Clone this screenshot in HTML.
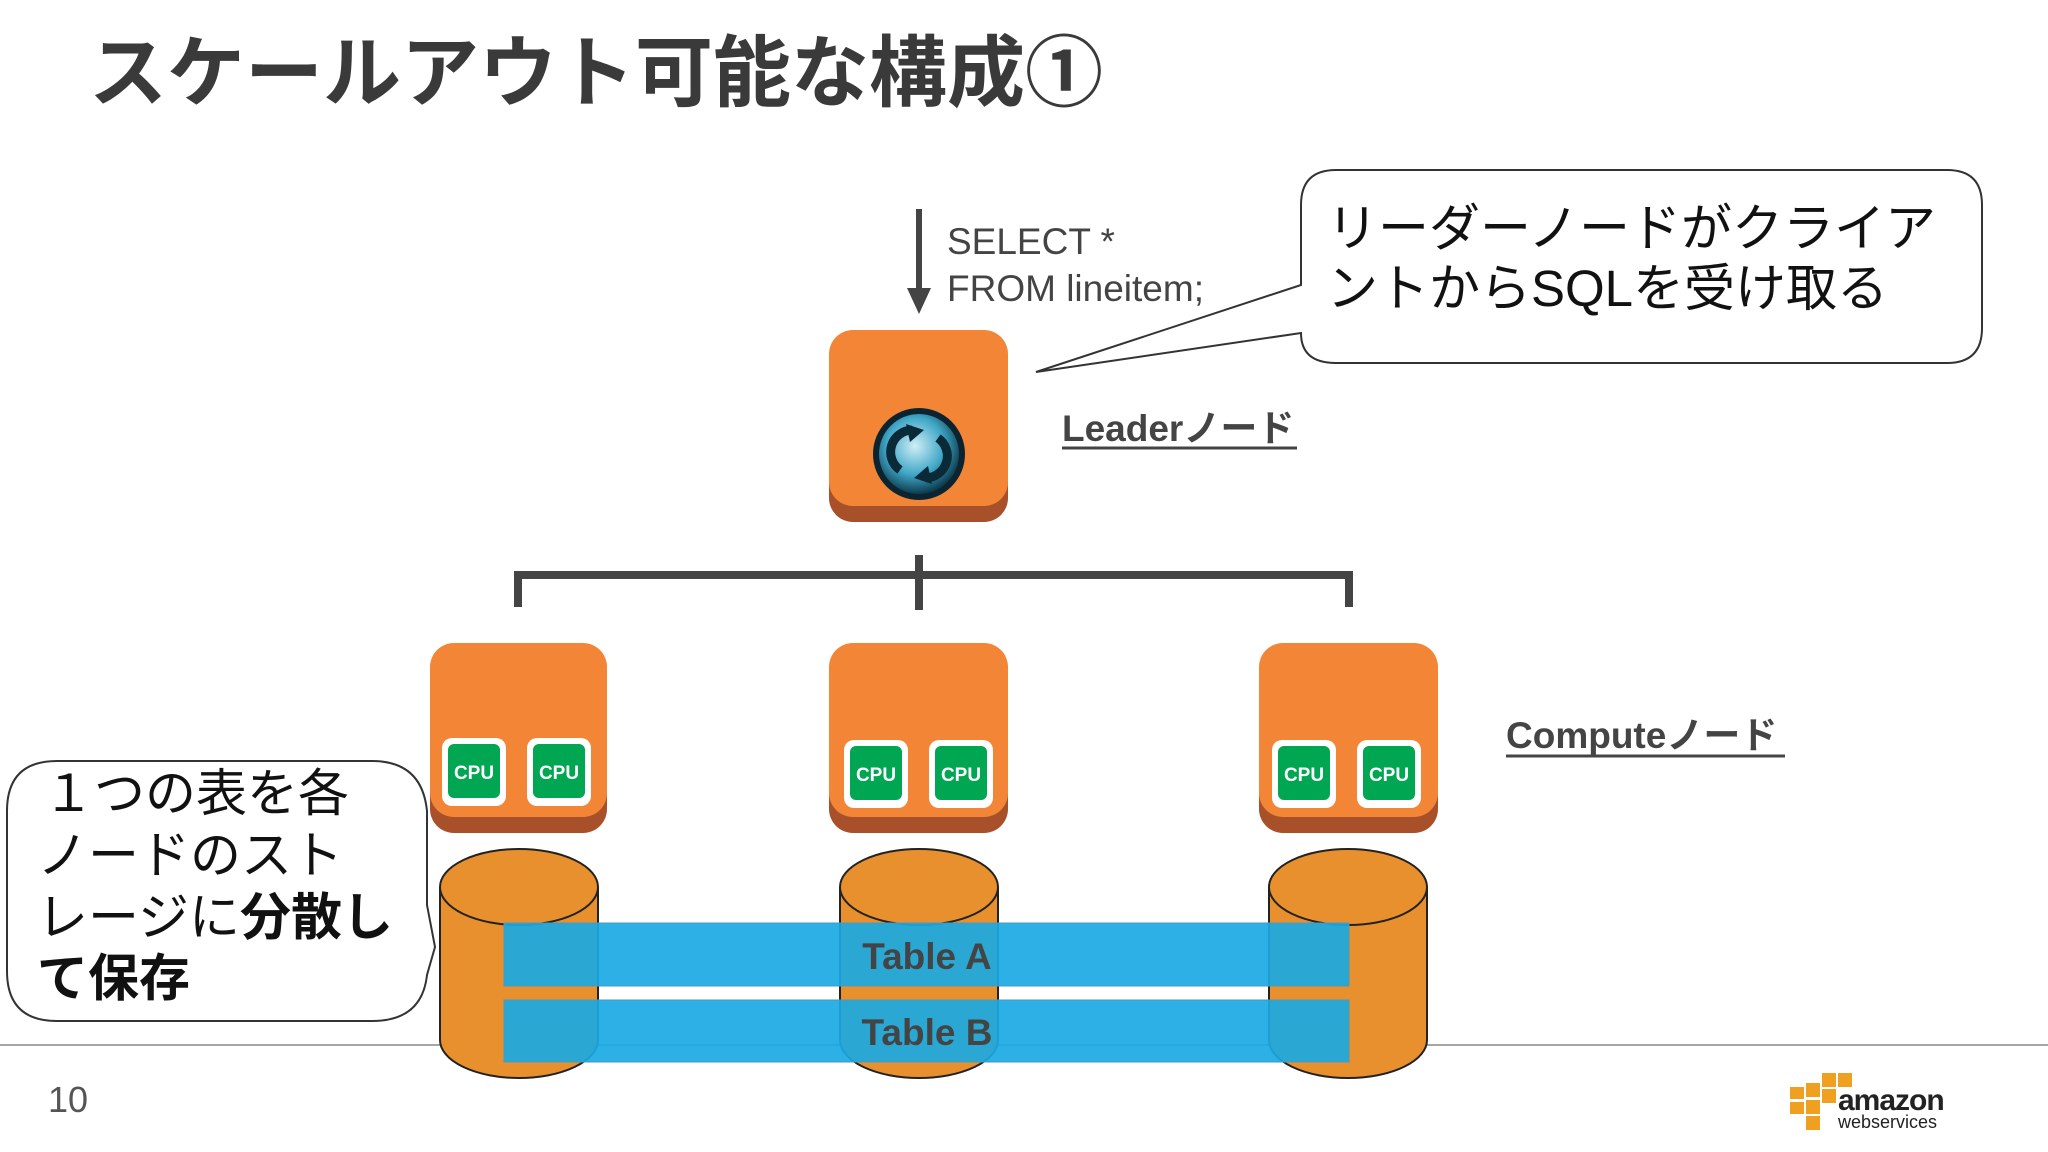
<!DOCTYPE html>
<html><head><meta charset="utf-8"><style>
html,body{margin:0;padding:0;background:#fff;}
svg{display:block;}
text{font-family:"Liberation Sans","Noto Sans CJK JP",sans-serif;}
</style></head><body>
<svg width="2048" height="1152" viewBox="0 0 2048 1152" xmlns="http://www.w3.org/2000/svg">
<defs>
<radialGradient id="ic" cx="45%" cy="40%" r="60%">
<stop offset="0" stop-color="#cfeef6"/><stop offset="0.6" stop-color="#3fa6c6"/><stop offset="1" stop-color="#0d3b4e"/>
</radialGradient>
<g id="cpu">
<rect x="0" y="0" width="64" height="68" rx="10" fill="#fff"/>
<rect x="6" y="6" width="52" height="54" rx="6" fill="#00a651"/>
<text x="32" y="41" font-size="19" font-weight="bold" fill="#fff" text-anchor="middle">CPU</text>
</g>
</defs>
<text x="89" y="100" font-size="78" font-weight="bold" fill="#3a3a3a">スケールアウト可能な構成①</text>

<line x1="919" y1="209" x2="919" y2="290" stroke="#444" stroke-width="6"/>
<polygon points="907,288 931,288 919,314" fill="#444"/>
<text x="947" y="254" font-size="37" fill="#444">SELECT *</text>
<text x="947" y="301" font-size="37" fill="#444">FROM lineitem;</text>

<path d="M1336,170 H1947 Q1982,170 1982,205 V328 Q1982,363 1947,363 H1336 Q1301,363 1301,333 L1036,372 L1301,285 V205 Q1301,170 1336,170 Z" fill="#fff" stroke="#333" stroke-width="2"/>
<text x="1327" y="246" font-size="51" fill="#111">リーダーノードがクライア</text>
<text x="1327" y="306" font-size="51" fill="#111">ントからSQLを受け取る</text>

<rect x="829" y="346" width="179" height="176" rx="24" fill="#a8502a"/>
<rect x="829" y="330" width="179" height="176" rx="24" fill="#f28536"/>
<circle cx="919" cy="454" r="46" fill="#0b2430"/>
<circle cx="919" cy="454" r="40" fill="url(#ic)"/>
<path d="M900,470 A22,22 0 0 1 912,430" fill="none" stroke="#0b2a38" stroke-width="9"/>
<polygon points="906,424 924,430 910,442" fill="#0b2a38"/>
<path d="M938,438 A22,22 0 0 1 926,478" fill="none" stroke="#0b2a38" stroke-width="9"/>
<polygon points="932,484 914,478 928,466" fill="#0b2a38"/>
<text x="1062" y="441" font-size="37" font-weight="bold" fill="#444">Leaderノード</text>
<line x1="1062" y1="448" x2="1297" y2="448" stroke="#444" stroke-width="3"/>

<g stroke="#444" stroke-width="8" fill="none">
<path d="M518,607 V575 H1349 V607"/>
<line x1="919" y1="555" x2="919" y2="610"/>
</g>

<g>
<rect x="430" y="659" width="177" height="174" rx="24" fill="#a8502a"/>
<rect x="430" y="643" width="177" height="174" rx="24" fill="#f28536"/>
<use href="#cpu" x="442" y="738"/><use href="#cpu" x="527" y="738"/>
<rect x="829" y="659" width="179" height="174" rx="24" fill="#a8502a"/>
<rect x="829" y="643" width="179" height="174" rx="24" fill="#f28536"/>
<use href="#cpu" x="844" y="740"/><use href="#cpu" x="929" y="740"/>
<rect x="1259" y="659" width="179" height="174" rx="24" fill="#a8502a"/>
<rect x="1259" y="643" width="179" height="174" rx="24" fill="#f28536"/>
<use href="#cpu" x="1272" y="740"/><use href="#cpu" x="1357" y="740"/>
</g>
<text x="1506" y="748" font-size="37" font-weight="bold" fill="#444">Computeノード</text>
<line x1="1506" y1="756" x2="1785" y2="756" stroke="#444" stroke-width="3"/>

<line x1="0" y1="1045" x2="2048" y2="1045" stroke="#888" stroke-width="1.5"/>

<g stroke="#222" stroke-width="2" fill="#e8902e">
<path d="M440,887 V1040 A79,38 0 0 0 598,1040 V887"/>
<ellipse cx="519" cy="887" rx="79" ry="38"/>
<path d="M840,887 V1040 A79,38 0 0 0 998,1040 V887"/>
<ellipse cx="919" cy="887" rx="79" ry="38"/>
<path d="M1269,887 V1040 A79,38 0 0 0 1427,1040 V887"/>
<ellipse cx="1348" cy="887" rx="79" ry="38"/>
</g>

<rect x="504" y="923" width="845" height="63" fill="#1aa9e3" fill-opacity="0.92" stroke="#4a9ac0" stroke-width="1"/>
<rect x="504" y="1000" width="845" height="62" fill="#1aa9e3" fill-opacity="0.92" stroke="#4a9ac0" stroke-width="1"/>
<text x="927" y="969" font-size="37" font-weight="bold" fill="#444" text-anchor="middle">Table A</text>
<text x="927" y="1045" font-size="37" font-weight="bold" fill="#444" text-anchor="middle">Table B</text>

<path d="M57,761 H372 Q422,761 427,811 V905 L435,947 L427,975 Q422,1021 372,1021 H57 Q7,1021 7,971 V811 Q7,761 57,761 Z" fill="#fff" stroke="#333" stroke-width="2"/>
<text font-size="51" fill="#111"><tspan x="43" y="811">１つの表を各</tspan><tspan x="37" y="873">ノードのスト</tspan><tspan x="37" y="935">レージに<tspan font-weight="bold">分散し</tspan></tspan><tspan x="37" y="996" font-weight="bold">て保存</tspan></text>

<text x="48" y="1112" font-size="36" fill="#555">10</text>

<g fill="#f0a020">
<rect x="1790" y="1087" width="14" height="12"/><rect x="1806" y="1083" width="14" height="14"/><rect x="1822" y="1073" width="14" height="14"/>
<rect x="1838" y="1073" width="14" height="14"/><rect x="1822" y="1089" width="14" height="14"/><rect x="1806" y="1100" width="14" height="14"/>
<rect x="1790" y="1102" width="14" height="12"/><rect x="1806" y="1116" width="14" height="14"/>
</g>
<text x="1838" y="1110" font-size="30" font-weight="bold" fill="#222" letter-spacing="-1">amazon</text>
<text x="1838" y="1128" font-size="18" fill="#222">webservices</text>
</svg>
</body></html>
